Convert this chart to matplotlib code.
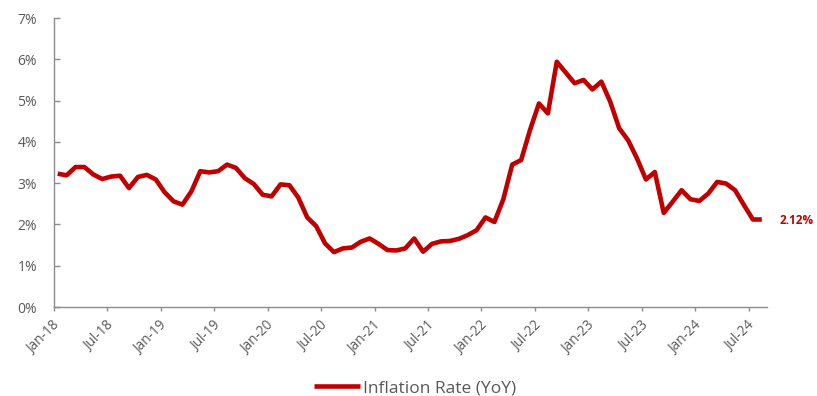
import matplotlib
matplotlib.use("Agg")
import matplotlib.pyplot as plt
from matplotlib.transforms import ScaledTranslation
import numpy as np

# Monthly year-over-year inflation rate (%), Jan-2018 .. Aug-2024
inflation = [
    3.23, 3.19, 3.39, 3.39, 3.21, 3.10, 3.16, 3.18, 2.88, 3.15, 3.20, 3.09,   # 2018
    2.78, 2.56, 2.48, 2.80, 3.29, 3.26, 3.29, 3.45, 3.37, 3.12, 2.98, 2.72,   # 2019
    2.68, 2.97, 2.95, 2.65, 2.17, 1.96, 1.54, 1.33, 1.42, 1.44, 1.58, 1.66,   # 2020
    1.53, 1.38, 1.37, 1.42, 1.66, 1.34, 1.53, 1.59, 1.60, 1.65, 1.74, 1.86,   # 2021
    2.17, 2.06, 2.61, 3.45, 3.56, 4.29, 4.93, 4.69, 5.94, 5.68, 5.42, 5.50,   # 2022
    5.27, 5.46, 4.97, 4.33, 4.04, 3.60, 3.09, 3.27, 2.28, 2.55, 2.83, 2.61,   # 2023
    2.57, 2.75, 3.03, 2.99, 2.83, 2.47, 2.12, 2.12,                           # 2024
]
tick_labels = ["Jan-18", "Jul-18", "Jan-19", "Jul-19", "Jan-20", "Jul-20",
               "Jan-21", "Jul-21", "Jan-22", "Jul-22", "Jan-23", "Jul-23",
               "Jan-24", "Jul-24"]
series_name = "Inflation Rate (YoY)"
last_label = "2.12%"

RED = "#C00000"
GREY_TXT = "#595959"
GREY_AX = "#8C8C8C"
FONT = ["Open Sans", "DejaVu Sans"]
plt.rcParams["font.family"] = FONT

fig = plt.figure(figsize=(8.17, 3.96), dpi=100)
ax = fig.add_axes([0.0657, 0.2247, 0.8727, 0.7298])

# observations sit mid-month on a month-based date axis
x = np.arange(len(inflation)) + 0.45
ax.plot(x, inflation, color=RED, lw=3.3, solid_joinstyle="round",
        solid_capstyle="butt", label=series_name)

ax.annotate(last_label, xy=(x[-1], inflation[-1]), xytext=(13, -1),
            textcoords="offset points", ha="left", va="center",
            color=RED, fontsize=8.5, fontweight="bold")

ax.set_xlim(0, 80)
ax.set_ylim(0, 7)
ax.set_yticks(np.arange(0, 8))
ax.set_yticklabels([f"{v}%" for v in range(0, 8)])
ax.set_xticks(np.arange(0, 6 * len(tick_labels), 6))
ax.set_xticklabels(tick_labels, rotation=45, ha="right", va="center",
                   rotation_mode="anchor")

for side in ("top", "right"):
    ax.spines[side].set_visible(False)
for side in ("left", "bottom"):
    ax.spines[side].set_color(GREY_AX)
    ax.spines[side].set_linewidth(1.0)

ax.tick_params(axis="both", colors=GREY_AX, labelcolor=GREY_TXT, width=1.0)
ax.tick_params(axis="y", direction="in", length=4, pad=12, labelsize=10)
ax.tick_params(axis="x", direction="out", length=3, pad=9, labelsize=9.8)

# nudge rotated date labels slightly right of their ticks
shift = ScaledTranslation(4 / 100, 0, fig.dpi_scale_trans)
for lab in ax.get_xticklabels():
    lab.set_transform(lab.get_transform() + shift)

fig.legend(loc="center", bbox_to_anchor=(0.508, 0.020), frameon=False,
           fontsize=12.5, handlelength=2.65, handletextpad=0.2,
           labelcolor=GREY_TXT)

fig.savefig("out.png", dpi=100)
